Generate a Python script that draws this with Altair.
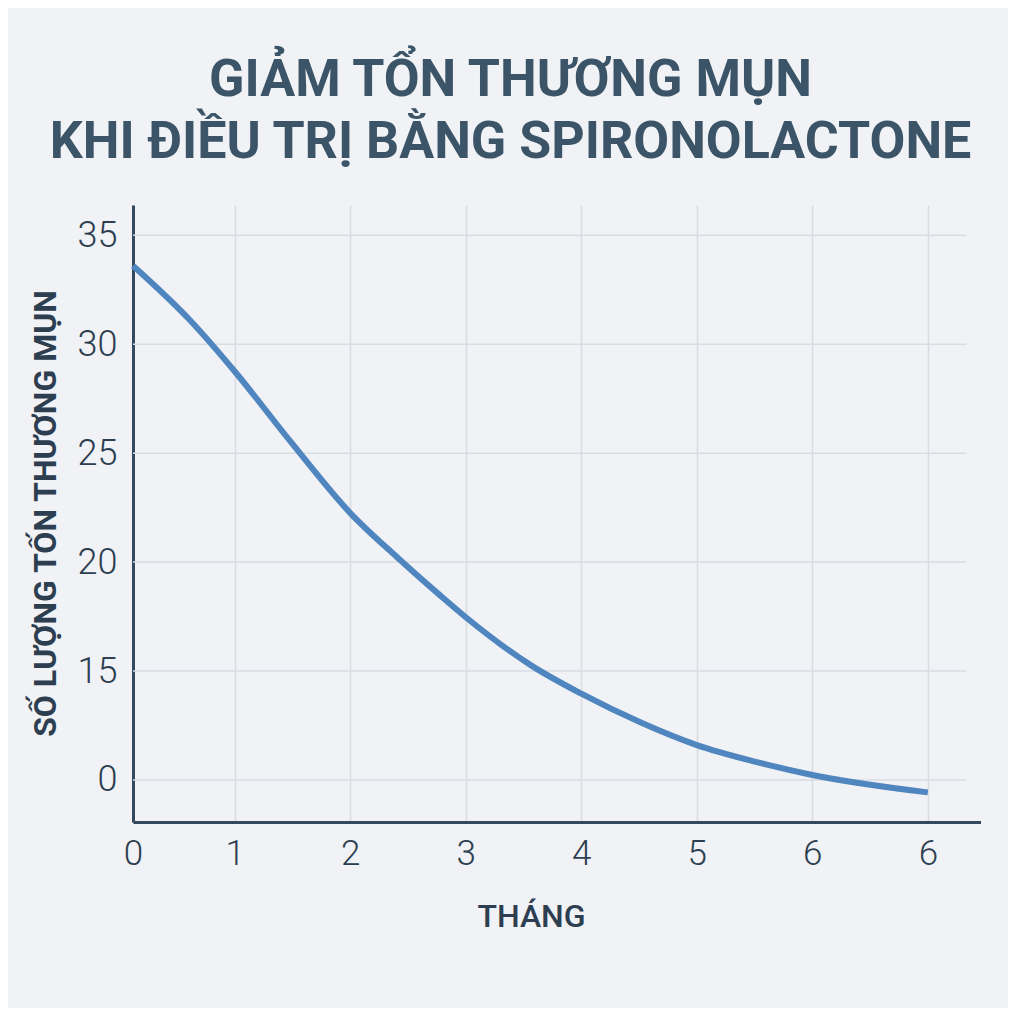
import altair as alt
import pandas as pd

# Line data (x in tick-index units, y in axis units where the "0" label sits at 10)
month_pos = [0, 0.56, 1, 1.48, 2, 2.41, 2.78, 3, 3.565, 4, 4.53, 5, 5.52, 6, 7]
lesions = [33.6, 31.1, 28.75, 25.55, 22.25, 20.2, 18.46, 17.47, 15.26, 13.96, 12.6, 11.6, 10.82, 10.23, 9.43]

x_ticks = [0, 1, 2, 3, 4, 5, 6, 7]
x_tick_labels = ["0", "1", "2", "3", "4", "5", "6", "6"]
y_ticks = [10, 15, 20, 25, 30, 35]
y_tick_labels = ["0", "15", "20", "25", "30", "35"]
grid_end = 7.335

title_lines = ["GIẢM TỔN THƯƠNG MỤN", "KHI ĐIỀU TRỊ BẰNG SPIRONOLACTONE"]
x_title = "THÁNG"
y_title = "SỐ LƯỢNG TỐN THƯƠNG MỤN"

df = pd.DataFrame({"x": month_pos, "y": lesions})
grid_df = pd.DataFrame({"y": y_ticks, "x0": [0] * len(y_ticks), "x1": [grid_end] * len(y_ticks)})

x_expr = "{" + ",".join(f"'{v}':'{l}'" for v, l in zip(x_ticks, x_tick_labels)) + "}[datum.value]"
y_expr = "{" + ",".join(f"'{v}':'{l}'" for v, l in zip(y_ticks, y_tick_labels)) + "}[datum.value]"

TEXT = "#2c3e50"
FONT = "Roboto"

x_scale = alt.Scale(domain=[0, 1, 7.456], range=[0, 101.8, 847.5], nice=False, zero=False)
y_scale = alt.Scale(domain=[8.07, 36.39], nice=False, zero=False)

grid = alt.Chart(grid_df).mark_rule(color="#d8dde3", strokeWidth=1.5).encode(
    x=alt.X("x0:Q", scale=x_scale),
    x2="x1:Q",
    y=alt.Y("y:Q", scale=y_scale),
)

line = alt.Chart(df).mark_line(
    color="#4f86bf", strokeWidth=6, interpolate="monotone", strokeCap="butt"
).encode(
    x=alt.X("x:Q", scale=x_scale,
            axis=alt.Axis(values=x_ticks, labelExpr=x_expr, title=x_title,
                          labelFontSize=35, labelFont=FONT, labelFontWeight=300, labelColor=TEXT,
                          labelPadding=14, labelFlush=False, ticks=False,
                          domainColor="#34495e", domainWidth=3,
                          grid=True, gridColor="#d8dde3", gridWidth=1.5,
                          titleFontSize=32, titleFont=FONT, titleFontWeight=500, titleColor=TEXT,
                          titleX=398, titleY=94, titleBaseline="middle", titleAnchor="middle")),
    y=alt.Y("y:Q", scale=y_scale,
            axis=alt.Axis(values=y_ticks, labelExpr=y_expr, title=y_title,
                          labelFontSize=36, labelFont=FONT, labelFontWeight=300, labelColor=TEXT,
                          labelPadding=16, labelFlush=False, ticks=False,
                          domainColor="#34495e", domainWidth=3, grid=False,
                          titleFontSize=32, titleFont=FONT, titleFontWeight="bold", titleColor=TEXT,
                          titleAngle=-90, titleX=-88, titleY=308, titleBaseline="middle",
                          titleAlign="center")),
)

chart = alt.layer(grid, line).properties(
    width=847, height=617,
    autosize=alt.AutoSizeParams(type="none"),
    padding={"left": 125, "top": 197, "right": 28, "bottom": 186},
    title=alt.TitleParams(text=title_lines, anchor="middle", dx=-46, fontSize=52,
                          font=FONT, fontWeight="bold", color="#3b5468",
                          lineHeight=62, baseline="bottom", offset=-16),
).configure(background="#f0f2f5").configure_view(stroke=None)

chart.save("out.html", embed_options={"renderer": "svg", "actions": False})
